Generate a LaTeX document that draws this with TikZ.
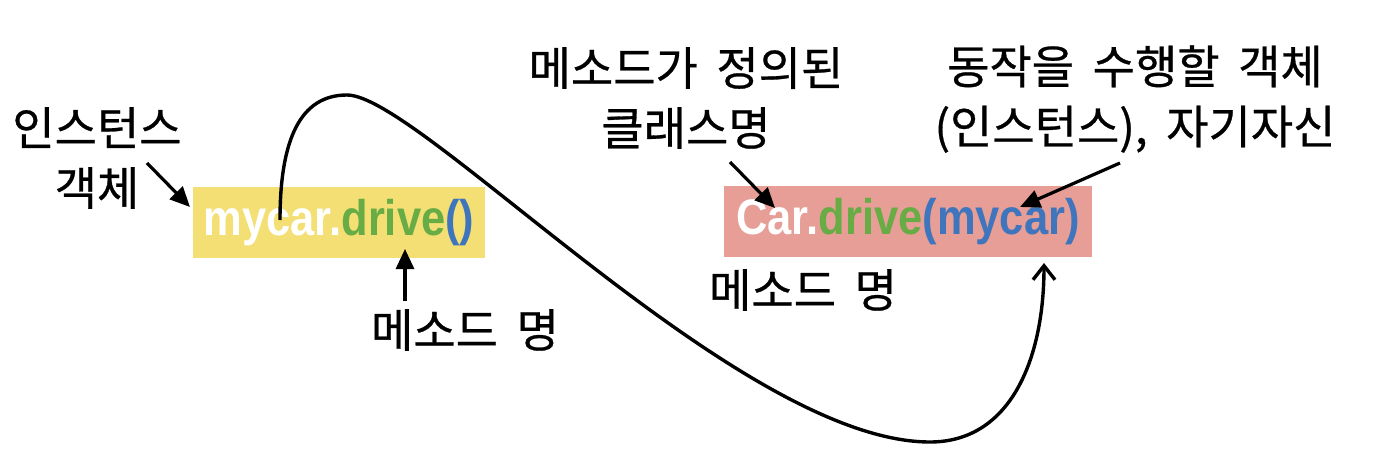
\documentclass[tikz,border=0pt]{standalone}
\usepackage{fontspec}
\setmainfont{Liberation Sans}
\newfontfamily\korfont[FakeBold=0.6, WordSpace=1.8]{Noto Sans CJK KR}
\usetikzlibrary{arrows.meta}

\definecolor{boxyellow}{RGB}{243,223,115}
\definecolor{boxsalmon}{RGB}{230,158,150}
\definecolor{codegreen}{RGB}{103,172,68}
\definecolor{codeblue}{RGB}{62,117,189}

\newcommand{\codetext}[1]{\scalebox{0.87}[1]{#1}}

\begin{document}
\begin{tikzpicture}[x = 0.5pt, y = -0.5pt,
    lbl/.style = {font=\korfont\fontsize{23}{30}\selectfont, align=center, inner sep=0pt},
    codebox/.style = {font=\bfseries\fontsize{25}{28}\selectfont, inner sep=0pt, minimum height=35.5pt},
    pointer/.style = {-{Triangle[length=10pt, width=9pt]}, line width=1.6pt}]
    \useasboundingbox (0,0) rectangle (1380,460);

    % the two calls
    \node[codebox, fill=boxyellow, minimum width=146pt] (call) at (339,222.5)
      {\codetext{\textcolor{white}{mycar.}\textcolor{codegreen}{drive}\textcolor{codeblue}{()}}};
    \node[codebox, fill=boxsalmon, minimum width=184pt] (classcall) at (908,221.5)
      {\codetext{\textcolor{white}{Car.}\textcolor{codegreen}{drive}\textcolor{codeblue}{(mycar)}}};

    % labels
    \node[lbl] (inst) at (97,158) {인스턴스\\객체};
    \node[lbl] (meth) at (465,330) {메소드 명};
    \node[lbl] (cls) at (686,98) {메소드가 정의된\\클래스명};
    \node[lbl] (clsmeth) at (803,290) {메소드 명};
    \node[lbl] (self) at (1135,99) {동작을 수행할 객체\\(인스턴스), 자기자신};

    % where the arrows point
    \coordinate (instend) at (190,207);
    \coordinate (methend) at (405,249);
    \coordinate (clsend) at (775,208);
    \coordinate (selfend) at (1020,207);

    \draw[pointer] (147,163) -- (instend);
    \draw[pointer] (methend |- meth.north) ++(0,-8) -- (methend);
    \draw[pointer] (730,162) -- (clsend);
    \draw[pointer] (1120,163) -- (selfend);

    % mycar goes in as the argument
    \coordinate (start) at (280,220);
    \coordinate (peak) at (347,95);
    \coordinate (bottom) at (930,442);
    \coordinate (tip) at (1044,263);
    \draw[line width=1.7pt, -{Straight Barb[length=7pt, width=11pt]}]
      (start) .. controls (280,140) and (300,95) .. (peak)
      .. controls (420,95) and (740,442) .. (bottom)
      .. controls (1010,442) and (1044,360) .. (tip);
  \end{tikzpicture}
\end{document}
